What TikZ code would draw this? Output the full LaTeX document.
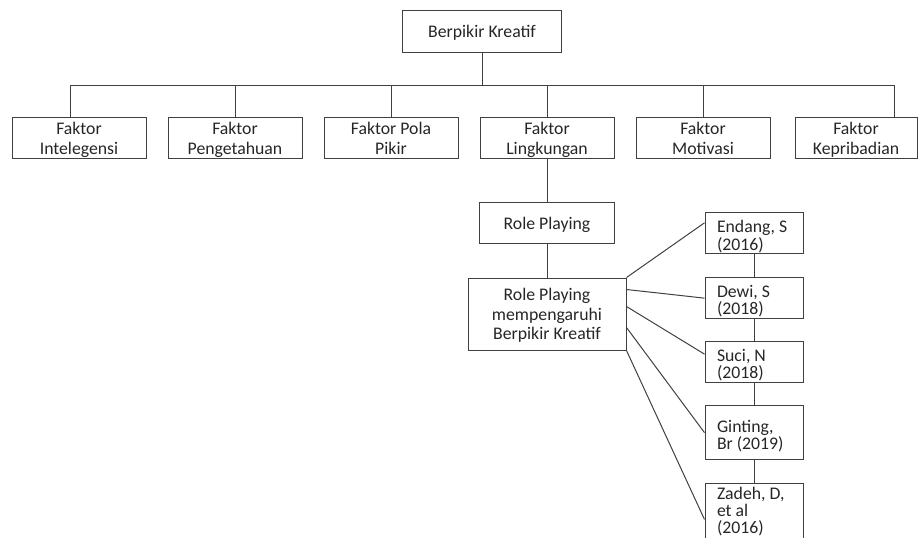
\documentclass[tikz,border=0pt]{standalone}
\usepackage{fontspec}
\setmainfont{Carlito}
\usepackage{tikz}
\usetikzlibrary{positioning,trees}

\tikzset{
    box/.style = {draw = black!75, line width = 0.75pt, align = center, inner sep = 1pt,
        font = \fontsize{13.3}{14.5}\selectfont, text = black!85},
    refbox/.style = {box, align = flush left, text width = 55.5pt, inner xsep = 9pt, inner ysep = 0pt,
        minimum height = 30.75pt, font = \fontsize{13.3}{13}\selectfont, text height = 14pt},
    link/.style = {draw = black!75, line width = 0.75pt},
    dropx/.style = {edge from parent path = {(\tikzparentnode.south) |- ([xshift = #1, yshift = 24pt]\tikzchildnode.north) -- ([xshift = #1]\tikzchildnode.north)}},
}

\begin{document}
\begin{tikzpicture}
[
    edge from parent/.style = {link},
    level 1/.style = {grow via three points = {one child at (-9.75pt,-80.6pt) and two children at (-68.25pt,-80.6pt) and (48.75pt,-80.6pt)}, dropx = 0pt},
    level 2/.style = {grow = down, level distance = 63.75pt, edge from parent path = {(\tikzparentnode.south) -- (\tikzchildnode.north)}},
    level 3/.style = {level distance = 67.9pt},
    every child node/.style = {box, text depth = -3pt, minimum width = 100.5pt, minimum height = 30.75pt},
]
\useasboundingbox (0,0) rectangle (688.5pt,-402.75pt);
\node[box, text depth = 0pt, minimum width = 119.25pt, minimum height = 31.5pt] (root) at (361.5pt,-23.25pt) {Berpikir Kreatif}
    child[dropx = -6.75pt] {node (intel) {Faktor\\Intelegensi}}
    child {node (tahu) {Faktor\\Pengetahuan}}
    child {node (pola) {Faktor Pola\\Pikir}}
    child {
        node (lingk) {Faktor\\Lingkungan}
        child {
            node[minimum width = 101.25pt, text depth = 0pt] (rp) {Role Playing}
            child {node[minimum width = 118.5pt, minimum height = 54pt] (rpk) {Role Playing\\mempengaruhi\\Berpikir Kreatif}}
        }
    }
    child {node (motiv) {Faktor\\Motivasi}}
    child[dropx = 28.5pt] {node[minimum width = 91.5pt, xshift = -2.25pt] (pribadi) {Faktor\\Kepribadian}};

% studies that back the claim
\node[refbox] (endang) at (565.5pt,-175.1pt) {Endang, S\\(2016)};
\node[refbox, below = 17pt of endang] (dewi) {Dewi, S\\(2018)};
\node[refbox, below = 16.5pt of dewi] (suci) {Suci, N\\(2018)};
\node[refbox, below = 16.5pt of suci, minimum height = 40.5pt] (ginting) {Ginting,\\Br (2019)};
\node[refbox, below = 17.5pt of ginting, text height = 11.5pt, text depth = 50pt] (zadeh) {Zadeh, D,\\et al\\(2016)};

\draw[link] (endang) -- (dewi) -- (suci) -- (ginting) -- (zadeh);

\draw[link] (rpk.north east) -- ([yshift = 8pt]endang.west);
\draw[link] ([yshift = -9pt]rpk.north east) -- (dewi.west);
\draw[link] ([yshift = -21.75pt]rpk.north east) -- ([yshift = 6pt]suci.west);
\draw[link] ([yshift = -37.5pt]rpk.north east) -- (ginting.west);
\draw[link] (rpk.south east) -- ([yshift = -27pt]zadeh.north west);
\end{tikzpicture}
\end{document}
